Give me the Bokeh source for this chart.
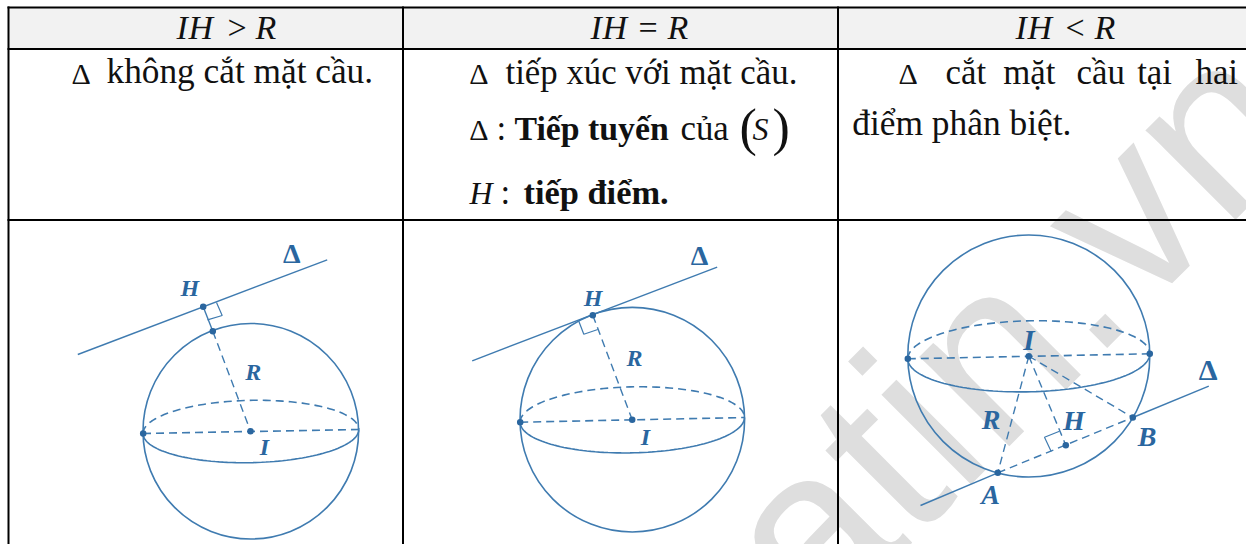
import numpy as np
from bokeh.plotting import figure
from bokeh.models import Range1d
from bokeh.embed import file_html
from bokeh.resources import INLINE
from bokeh.core.properties import value

BLUE = "#3f7bb0"
DARK = "#2a669f"
SERIF = "Liberation Serif"

grid_x = [8, 402.5, 837.5]
grid_y = [7, 48.5, 219.5]
header_fill = "#f2f2f2"

# (text, x, baseline, size, style)
HS = 34
BS = 34.8
body_texts = [
    ("I", 176, 37, HS, "italic"), ("H", 188, 37, HS, "italic"), (">", 227, 37, HS, "normal"), ("R", 255, 37, HS, "italic"),
    ("I", 590, 37, HS, "italic"), ("H", 602, 37, HS, "italic"), ("=", 638, 37, HS, "normal"), ("R", 667, 37, HS, "italic"),
    ("I", 1015, 37, HS, "italic"), ("H", 1027, 37, HS, "italic"), ("<", 1065, 37, HS, "normal"), ("R", 1094, 37, HS, "italic"),
    ("Δ", 71, 82, 30, "normal"), ("không cắt mặt cầu.", 106, 82, BS + 0.5, "normal"),
    ("Δ", 468.7, 82, 30, "normal"), ("tiếp xúc với mặt cầu.", 505, 82, BS, "normal"),
    ("Δ", 468.7, 138, 30, "normal"), (":", 496, 138, BS, "normal"),
    ("Tiếp tuyến", 514, 138, BS - 1, "bold"), ("của", 680, 138, BS, "normal"),
    ("(", 739, 143, 52, "normal"), ("S", 752, 138, 32, "italic"), (")", 772, 143, 52, "normal"),
    ("H", 469, 202, 32, "italic"), (":", 500, 202, BS, "normal"),
    ("tiếp điểm.", 523, 202, BS - 0.4, "bold"),
    ("Δ", 898, 82, 30, "normal"), ("cắt", 945, 82, BS, "normal"), ("mặt", 1002.7, 82, BS, "normal"),
    ("cầu", 1076, 82, BS, "normal"), ("tại", 1136.7, 82, BS, "normal"), ("hai", 1195, 82, BS, "normal"),
    ("điểm phân biệt.", 851.7, 133, BS + 0.6, "normal"),
]

# sphere: cx, cy, r; equator: left, right, upper y, lower y
spheres = [
    dict(c=(250.3, 430.7), r=107.8, el=(142.5, 433), er=(358.3, 429), up=397.7, lo=460),
    dict(c=(631.8, 419.2), r=112.3, el=(519.7, 421.7), er=(744, 417), up=384.3, lo=450.3),
    dict(c=(1028.3, 355.5), r=121.0, el=(907.3, 358.3), er=(1149.3, 353.3), up=318.3, lo=389.3),
]

solid_segments = [
    [(77.3, 354), (326.7, 259.3)],
    [(202.7, 306.3), (212.3, 330.7)],
    [(471.7, 360.3), (716.7, 266.7)],
    [(920, 505), (997.3, 472.3)],
    [(1132.3, 417), (1208.3, 385.7)],
]
dashed_segments = [
    [(212.3, 330.7), (250, 430.7)],
    [(592.3, 314.7), (631.7, 419.3)],
    [(997.3, 472.3), (1132.3, 417)],
    [(1028.3, 355.7), (997.3, 472.3)],
    [(1028.3, 355.7), (1065.3, 444.7)],
    [(1028.3, 355.7), (1132.3, 417)],
]
right_angles = [
    [(216, 302), (221.7, 315), (207, 319.3)],
    [(578.3, 320.7), (583.3, 333.7), (597.3, 329)],
    [(1059, 430.7), (1044, 436.7), (1050.7, 451)],
]
points = [
    (202.7, 306.3), (212.3, 330.7), (250, 430.7), (142.7, 433),
    (592.3, 314.7), (631.7, 419.3), (519.7, 421.7),
    (1028.3, 355.7), (907.3, 358.3), (1149.3, 353.3), (997.3, 472.3), (1132.3, 417), (1065.3, 444.7),
]
labels = [
    ("Δ", 291.3, 253.3, 28), ("H", 189.3, 287.3, 24), ("R", 252.7, 371.7, 24), ("I", 264, 446.7, 24),
    ("Δ", 699, 255, 28), ("H", 592.7, 297.7, 24), ("R", 634, 357.3, 24), ("I", 645, 436, 24),
    ("Δ", 1207.7, 369, 30), ("I", 1028.3, 339, 29), ("R", 990.7, 419, 28), ("H", 1073.3, 420, 28),
    ("B", 1146.7, 435.7, 28), ("A", 990, 494.3, 28),
]
watermark = "atin.vn"
wm_anchor = (1009, 328)

p = figure(width=1246, height=544, output_backend="svg", toolbar_location=None,
           x_range=Range1d(0, 1246), y_range=Range1d(544, 0),
           min_border=0, outline_line_color=None, background_fill_color="white",
           styles={"position": "absolute", "left": "0px", "top": "0px"})
p.axis.visible = False
p.grid.visible = False

# watermark
p.text([wm_anchor[0]], [wm_anchor[1]], text=[watermark], angle=[np.radians(45)], angle_units="rad",
       text_font=value("Liberation Sans"), text_font_size="240px",
       text_color="#dedede", text_align="center", text_baseline="alphabetic")

# header
p.quad(left=[grid_x[0]], right=[1246], top=[grid_y[0]], bottom=[grid_y[1]], fill_color=header_fill, line_color=None)
for x in grid_x:
    p.line([x, x], [grid_y[0] - 1, 544], line_color="black", line_width=2)
for y in grid_y:
    p.line([grid_x[0] - 1, 1246], [y, y], line_color="black", line_width=2)

for t, x, y, s, st in body_texts:
    p.text([x], [y - 0.3 * s], text=[t], text_font=value(SERIF), text_font_size=f"{s}px", text_font_style=st,
           text_color="#111111", text_align="left", text_baseline="alphabetic")

for sp in spheres:
    cx, cy = sp["c"]
    p.ellipse([cx], [cy], width=[2 * sp["r"]], height=[2 * sp["r"]], fill_color=None, line_color=BLUE, line_width=1.6)
    (lx, ly), (rx, ry) = sp["el"], sp["er"]
    ex, ey = (lx + rx) / 2, (ly + ry) / 2
    a, b = (rx - lx) / 2, (sp["lo"] - sp["up"]) / 2
    t = np.linspace(0, np.pi, 80)
    slope = (ry - ly) / (rx - lx)
    xs = ex - a * np.cos(t)
    tilt = ey + slope * (xs - ex)
    p.line(xs, tilt + b * np.sin(t), line_color=BLUE, line_width=1.6)
    p.line(xs, tilt - b * np.sin(t), line_color=BLUE, line_width=1.6, line_dash="8 5")
    p.line([lx, rx], [ly, ry], line_color=BLUE, line_width=1.6, line_dash="8 5")

for seg in solid_segments:
    p.line(*zip(*seg), line_color=BLUE, line_width=1.4)
for seg in dashed_segments:
    p.line(*zip(*seg), line_color=BLUE, line_width=1.4, line_dash="8 5")
for ang in right_angles:
    p.line(*zip(*ang), line_color=BLUE, line_width=1.2)
px, py = zip(*points)
p.scatter(px, py, size=6.5, fill_color=DARK, line_color=None)
for t, x, y, s in labels:
    greek = t == "Δ"
    p.text([x], [y], text=[t], text_font=value(SERIF), text_font_size=f"{s}px",
           text_font_style="bold" if greek else "bold italic", text_color=DARK,
           text_align="center", text_baseline="middle")

open("out.html", "w").write(file_html(p, INLINE))
